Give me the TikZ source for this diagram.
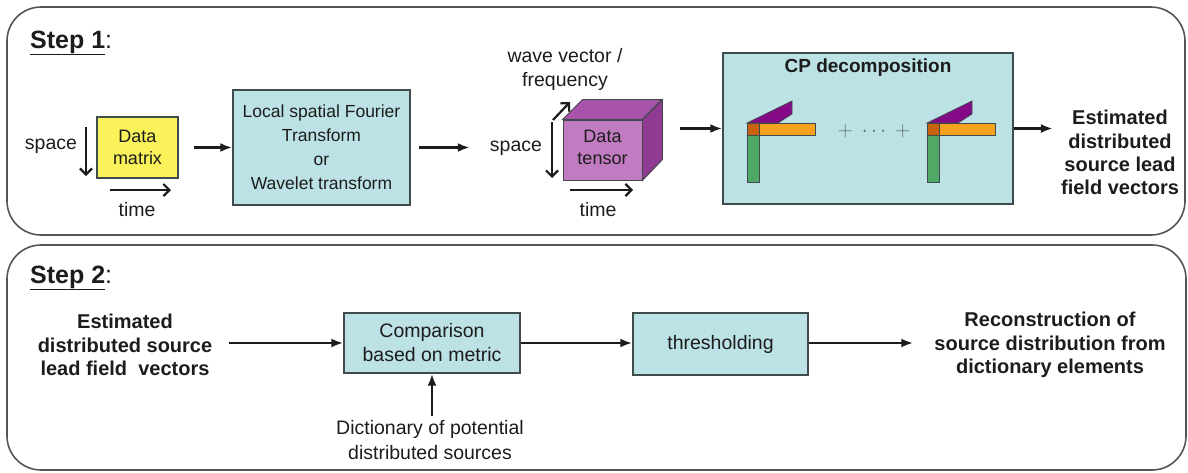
\documentclass[tikz,border=0pt]{standalone}
\usepackage{fontspec}
\setmainfont{Liberation Sans}
\usetikzlibrary{arrows.meta}

\definecolor{boxfill}{HTML}{BCE2E5}
\definecolor{boxline}{HTML}{404B4C}
\definecolor{frameline}{HTML}{555555}
\definecolor{inkcol}{HTML}{1C1C1C}
\definecolor{matyellow}{HTML}{FAF25A}
\definecolor{cubefront}{HTML}{C07BC1}
\definecolor{cubetop}{HTML}{A853AA}
\definecolor{cubeside}{HTML}{8E3B91}
\definecolor{modeA}{HTML}{4FA865}
\definecolor{modeB}{HTML}{F7A21E}
\definecolor{modeC}{HTML}{850A87}
\definecolor{modeX}{HTML}{C9620F}

\tikzset{
  frame/.style={draw=frameline, line width=1.6pt, rounded corners=34pt},
  procbox/.style={draw=boxline, fill=boxfill, line width=1.4pt, align=center,
    text=inkcol, font=\fontsize{17.5}{24}\selectfont},
  lbl/.style={align=center, text=inkcol, inner sep=1pt,
    font=\fontsize{19.5}{24}\selectfont},
  boldlbl/.style={align=center, text=inkcol, inner sep=1pt,
    font=\fontsize{20}{23.2}\selectfont\bfseries},
  conn/.style={draw=inkcol, line width=2.6pt, -{Latex[length=12pt,width=9pt]}},
  axisarrow/.style={draw=inkcol, line width=2.2pt,
    -{Straight Barb[length=6pt,width=12pt]}},
  factor/.style={draw=boxline, line width=0.7pt},
}

\begin{document}
\begin{tikzpicture}[x=1pt, y=-1pt]
\useasboundingbox (0,0) rectangle (1188,472);

% the two stage frames
\draw[frame] (7,7) rectangle (1185,235);
\draw[frame] (7,245) rectangle (1186,470);

% ---------------- Step 1 ----------------
\node[anchor=base west, inner sep=0, text=inkcol,
      font=\fontsize{25}{30}\selectfont] (step1) at (30,48)
      {\underline{\textbf{Step 1}}:};

% data matrix with its axes
\node[draw=boxline, fill=matyellow, line width=1.2pt, minimum width=81pt,
      minimum height=61pt, align=center, text=inkcol,
      font=\fontsize{18}{22}\selectfont] (dm) at (137.5,147.5) {Data\\matrix};
\node[lbl] (spaceA) at (51,146) {space};
\node[lbl] (timeA) at (137,210) {time};
\draw[axisarrow] (86,127) -- (86,176);
\draw[axisarrow] (110,190) -- (171,190);

% transform block
\node[procbox, minimum width=177pt, minimum height=115pt] (tr) at (321.5,147.5)
  {Local spatial Fourier\\Transform\\or\\Wavelet transform};

% data tensor (cube) with its axes
\node[lbl] (spaceB) at (516,148) {space};
\node[lbl] (timeB) at (598,210) {time};
\node[lbl] (waveB) at (565,69.5) {wave vector /\\frequency};
\node[draw=boxline, fill=cubefront, line width=0.9pt, minimum width=79pt,
      minimum height=60pt, align=center, text=inkcol,
      font=\fontsize{18}{22}\selectfont] (dt) at (602.5,150) {\\[-14pt]Data\\tensor};
\draw[draw=boxline, line width=0.9pt, fill=cubetop]
  (dt.north west) -- ++(20,-20) -- ++(79,0) -- (dt.north east) -- cycle;
\draw[draw=boxline, line width=0.9pt, fill=cubeside]
  (dt.north east) -- ++(20,-20) -- ++(0,60) -- (dt.south east) -- cycle;
\draw[axisarrow] (552,122) -- (552,178);
\draw[axisarrow] (553,120) -- (570,102);
\draw[axisarrow] (570,190) -- (633,190);

% CP decomposition block: two rank-one terms
\node[procbox, minimum width=290pt, minimum height=151pt] (cp) at (868,128.5) {};
\node[boldlbl, font=\fontsize{19}{23}\selectfont\bfseries] (cptitle) at (868,68)
  {CP decomposition};
\foreach \dx in {0,180} {
  \begin{scope}[xshift=\dx pt]
    \draw[factor, fill=modeC] (747,123) -- (792,101) -- (792,114) -- (778,123) -- cycle;
    \draw[factor, fill=modeB] (759,123) rectangle (815,135);
    \draw[factor, fill=modeA] (747,135) rectangle (759,182);
    \draw[factor, fill=modeX] (747,123) rectangle (759,135);
  \end{scope}
}
\node[text=black!60, font=\fontsize{20}{24}\selectfont] (sumdots) at (874,131)
  {$+\;\cdots\;+$};

\node[boldlbl] (est1) at (1120,152.5)
  {Estimated\\distributed\\source lead\\field vectors};

% step 1 connectors
\draw[conn, shorten <=15pt] (dm.east) -- (tr.west);
\draw[conn, shorten <=8pt, shorten >=19pt] (tr.east) -- (tr.east -| spaceB.west);
\draw[conn, shorten <=38pt] (cp.west -| dt.east) -- (cp.west);
\draw[conn, shorten >=7pt] (cp.east) -- (cp.east -| est1.west);

% ---------------- Step 2 ----------------
\node[anchor=base west, inner sep=0, text=inkcol,
      font=\fontsize{25}{30}\selectfont] (step2) at (30,283)
      {\underline{\textbf{Step 2}}:};

\node[boldlbl] (est2) at (125,345)
  {Estimated\\distributed source\\lead field\ \ vectors};
\node[procbox, minimum width=176pt, minimum height=60pt,
      font=\fontsize{19.5}{24}\selectfont] (comp) at (432,343)
  {Comparison\\based on metric};
\node[procbox, minimum width=175pt, minimum height=62pt,
      font=\fontsize{19.5}{24}\selectfont] (thr) at (720.5,344) {thresholding};
\node[lbl, font=\fontsize{19.5}{25}\selectfont] (dict) at (430,440)
  {Dictionary of potential\\distributed sources};
\node[boldlbl] (rec) at (1050,345)
  {Reconstruction of\\source distribution from\\dictionary elements};

% step 2 connectors
\draw[conn, shorten <=16pt] (comp.west -| est2.east) -- (comp.west);
\draw[conn] (comp.east) -- (comp.east -| thr.west);
\draw[conn, shorten >=20pt] (comp.east -| thr.east) -- (comp.east -| rec.west);
\draw[conn, shorten <=3pt] (dict.north -| comp.south) -- (comp.south);

\end{tikzpicture}
\end{document}
